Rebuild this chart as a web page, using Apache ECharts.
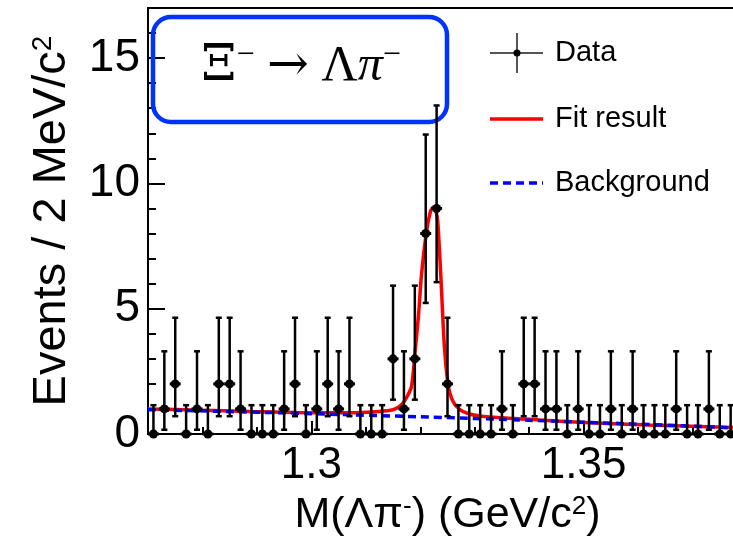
<!DOCTYPE html>
<html>
<head>
<meta charset="utf-8">
<script src="https://cdn.jsdelivr.net/npm/echarts@6/dist/echarts.min.js"></script>
<style>
  html, body { margin: 0; padding: 0; background: #fff; }
  #chart { width: 733px; height: 542px; }
</style>
</head>
<body>
<div id="chart"></div>
<script>
// bin centres, 2 MeV bins (GeV/c2)
var binCenters = [
  1.271, 1.273, 1.275, 1.277, 1.279, 1.281, 1.283, 1.285, 1.287, 1.289,
  1.291, 1.293, 1.295, 1.297, 1.299, 1.301, 1.303, 1.305, 1.307, 1.309,
  1.311, 1.313, 1.315, 1.317, 1.319, 1.321, 1.323, 1.325, 1.327, 1.329,
  1.331, 1.333, 1.335, 1.337, 1.339, 1.341, 1.343, 1.345, 1.347, 1.349,
  1.351, 1.353, 1.355, 1.357, 1.359, 1.361, 1.363, 1.365, 1.367, 1.369,
  1.371, 1.373, 1.375, 1.377
];
var counts = [
  0, 1, 2, 0, 1, 0, 2, 2, 1, 0,
  0, 0, 1, 2, 0, 1, 2, 1, 2, 0,
  0, 0, 3, 1, 3, 8, 9, 2, 0, 0,
  0, 0, 1, 0, 2, 2, 1, 1, 0, 1,
  0, 0, 1, 0, 1, 0, 0, 0, 1, 0,
  0, 1, 0, 0
];
// asymmetric (Poisson) error bars read per count
var errLow = { 0: 0, 1: 0.83, 2: 1.29, 3: 1.63, 8: 2.77, 9: 2.94 };
var errHigh = { 0: 1.15, 1: 2.30, 2: 2.64, 3: 2.92, 8: 3.95, 9: 4.11 };

// fit result curve
var fitX = [1.27, 1.2794, 1.2886, 1.2969, 1.3033, 1.3094, 1.3143, 1.3156, 1.3167, 1.3176,
  1.3184, 1.3191, 1.3197, 1.3202, 1.3211, 1.3219, 1.3224, 1.3228, 1.3232, 1.3238,
  1.3244, 1.3251, 1.3259, 1.3272, 1.329, 1.3322, 1.3419, 1.3511, 1.3621, 1.3774, 1.38];
var fitY = [1.0, 0.95, 0.9, 0.86, 0.85, 0.86, 0.94, 1.02, 1.2, 1.5,
  1.9, 3.4, 4.8, 6.3, 8.0, 8.9, 9.05, 8.95, 8.5, 6.2,
  3.6, 2.0, 1.35, 0.98, 0.8, 0.69, 0.56, 0.45, 0.36, 0.26, 0.25];
// background curve
var bkgX = [1.27, 1.29, 1.31, 1.33, 1.35, 1.37, 1.38];
var bkgY = [0.97, 0.87, 0.75, 0.62, 0.47, 0.31, 0.22];

var yMajor = [0, 5, 10, 15];
var yMinor = [1, 2, 3, 4, 6, 7, 8, 9, 11, 12, 13, 14, 16, 17];
var xMajor = [1.3, 1.35];
var xMinor = [1.28, 1.29, 1.31, 1.32, 1.33, 1.34, 1.36, 1.37];

var font = "'Liberation Sans', Arial, sans-serif";
var serif = "'Liberation Serif', 'DejaVu Serif', serif";

function zip(a, b) {
  return a.map(function (v, i) { return [v, b[i]]; });
}

var points = binCenters.map(function (x, i) {
  var n = counts[i];
  return [x, n, errLow[n], errHigh[n]];
});

function renderPoint(params, api) {
  var x = api.value(0), y = api.value(1), lo = api.value(2), hi = api.value(3);
  var c = api.coord([x, y]);
  var t = api.coord([x, y + hi]);
  var b = api.coord([x, y - lo]);
  var st = { stroke: '#000', lineWidth: 2.5 };
  var kids = [
    { type: 'line', shape: { x1: c[0], y1: t[1], x2: c[0], y2: b[1] }, style: st },
    { type: 'line', shape: { x1: c[0] - 3, y1: t[1], x2: c[0] + 3, y2: t[1] }, style: st },
    { type: 'line', shape: { x1: c[0] - 5.5, y1: c[1], x2: c[0] + 5.5, y2: c[1] }, style: { stroke: '#000', lineWidth: 3 } },
    { type: 'circle', shape: { cx: c[0], cy: c[1], r: 4.5 }, style: { fill: '#000' } }
  ];
  if (lo > 0) {
    kids.push({ type: 'line', shape: { x1: c[0] - 3, y1: b[1], x2: c[0] + 3, y2: b[1] }, style: st });
  }
  return { type: 'group', children: kids };
}

var chart = echarts.init(document.getElementById('chart'));

var option = {
  animation: false,
  backgroundColor: '#fff',
  grid: {
    left: 148, top: 8, right: -14, bottom: 108,
    outerBoundsMode: 'none', containLabel: false,
    show: true, borderColor: '#000', borderWidth: 2, backgroundColor: 'transparent'
  },
  xAxis: [{
    type: 'value', min: 1.27, max: 1.38,
    axisLine: { lineStyle: { color: '#000', width: 2 } },
    axisTick: { inside: true, length: 13, customValues: xMajor, lineStyle: { color: '#000', width: 2 } },
    axisLabel: { customValues: xMajor, margin: 10, color: '#000', fontSize: 44, fontFamily: font,
      formatter: function (v) { return String(+v.toFixed(2)); } },
    splitLine: { show: false },
    name: 'M(Λπ{s|-}) (GeV/c{s|2})',
    nameLocation: 'middle', nameGap: 60,
    nameTextStyle: { color: '#000', fontSize: 43, fontFamily: font,
      rich: { s: { fontSize: 26, fontFamily: font, color: '#000', verticalAlign: 'top', padding: [0, 0, 16, 0] } } }
  }, {
    type: 'value', min: 1.27, max: 1.38, gridIndex: 0, position: 'bottom',
    axisLine: { show: false },
    axisTick: { inside: true, length: 7, customValues: xMinor, lineStyle: { color: '#000', width: 2 } },
    axisLabel: { show: false },
    splitLine: { show: false }
  }],
  yAxis: [{
    type: 'value', min: 0, max: 17,
    axisLine: { show: true, lineStyle: { color: '#000', width: 2 } },
    axisTick: { show: true, inside: true, length: 17, customValues: yMajor, lineStyle: { color: '#000', width: 2 } },
    axisLabel: { customValues: yMajor, margin: 8, color: '#000', fontSize: 46, fontFamily: font },
    splitLine: { show: false },
    name: 'Events / 2 MeV/c{s|2}',
    nameLocation: 'middle', nameGap: 72,
    nameTextStyle: { color: '#000', fontSize: 47, fontFamily: font,
      rich: { s: { fontSize: 28, fontFamily: font, color: '#000', verticalAlign: 'top', padding: [0, 0, 18, 0] } } }
  }, {
    type: 'value', min: 0, max: 17, gridIndex: 0, position: 'left',
    axisLine: { show: false },
    axisTick: { show: true, inside: true, length: 8, customValues: yMinor, lineStyle: { color: '#000', width: 2 } },
    axisLabel: { show: false },
    splitLine: { show: false }
  }],
  series: [{
    name: 'Fit result', type: 'line', data: zip(fitX, fitY),
    showSymbol: false, smooth: 0.25, z: 3,
    lineStyle: { color: '#ff0000', width: 3.5 }
  }, {
    name: 'Background', type: 'line', data: zip(bkgX, bkgY),
    showSymbol: false, smooth: true, z: 4,
    lineStyle: { color: '#0000ff', width: 3.5, type: [8, 5] }
  }, {
    name: 'Data', type: 'custom', data: points, z: 5,
    renderItem: renderPoint
  }],
  graphic: [
    { type: 'rect', z: 1, shape: { x: 153, y: 17, width: 294, height: 105, r: 18 },
      style: { fill: 'none', stroke: '#0033ff', lineWidth: 4.5 } },
    { type: 'text', z: 10, x: 301, y: 67,
      style: { text: '{x|Ξ}{s|−} {a|→} Λ{i|π}{s|−}', fontSize: 50, fontFamily: serif, fill: '#000',
        align: 'center', verticalAlign: 'middle',
        rich: {
          x: { fontSize: 50, fontFamily: "'DejaVu Serif', serif", fill: '#000' },
          s: { fontSize: 32, fontFamily: serif, fill: '#000', verticalAlign: 'top', padding: [0, 0, 22, 0] },
          a: { fontSize: 50, fontFamily: "'DejaVu Serif', serif", fill: '#000' },
          i: { fontSize: 50, fontFamily: serif, fontStyle: 'italic', fill: '#000' }
        } } },
    // legend
    { type: 'line', z: 10, shape: { x1: 490, y1: 53, x2: 543, y2: 53 }, style: { stroke: '#555', lineWidth: 2 } },
    { type: 'line', z: 10, shape: { x1: 517, y1: 33, x2: 517, y2: 73 }, style: { stroke: '#555', lineWidth: 2 } },
    { type: 'circle', z: 10, shape: { cx: 517, cy: 53, r: 3.5 }, style: { fill: '#000' } },
    { type: 'text', z: 10, x: 555, y: 53, style: { text: 'Data', fontSize: 29, fontFamily: font, fill: '#000', verticalAlign: 'middle' } },
    { type: 'line', z: 10, shape: { x1: 490, y1: 119, x2: 543, y2: 119 }, style: { stroke: '#ff0000', lineWidth: 3.5 } },
    { type: 'text', z: 10, x: 555, y: 119, style: { text: 'Fit result', fontSize: 29, fontFamily: font, fill: '#000', verticalAlign: 'middle' } },
    { type: 'line', z: 10, shape: { x1: 490, y1: 183, x2: 543, y2: 183 }, style: { stroke: '#0000ff', lineWidth: 3.5, lineDash: [8, 5] } },
    { type: 'text', z: 10, x: 555, y: 183, style: { text: 'Background', fontSize: 29, fontFamily: font, fill: '#000', verticalAlign: 'middle' } }
  ]
};

chart.setOption(option);
</script>
</body>
</html>
